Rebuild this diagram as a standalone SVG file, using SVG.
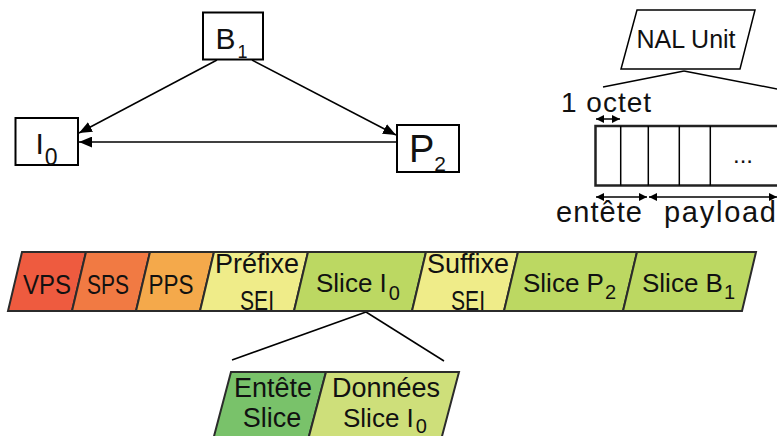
<svg xmlns="http://www.w3.org/2000/svg" width="777" height="436" viewBox="0 0 777 436">
<style>
text{font-family:"Liberation Sans",Arial,sans-serif;fill:#111}
.box{fill:#fff;stroke:#000;stroke-width:2}
.seg{stroke:#2b2b2b;stroke-width:2;stroke-linejoin:miter}
.lbl{font-size:27px;text-anchor:middle}
.ln{stroke:#000;stroke-width:1.5;fill:none}
</style>
<defs>
<marker id="ah" viewBox="0 0 12 10" refX="12" refY="5" markerWidth="13" markerHeight="11" orient="auto" markerUnits="userSpaceOnUse">
<path d="M0,0 L12,5 L0,10 z" fill="#000"/>
</marker>
<marker id="sh" viewBox="0 0 8 8" refX="8" refY="4" markerWidth="8" markerHeight="8" orient="auto-start-reverse" markerUnits="userSpaceOnUse">
<path d="M0,0 L8,4 L0,8 z" fill="#000"/>
</marker>
</defs>

<g id="connectors">
<line class="ln" x1="217" y1="60" x2="79" y2="133" marker-end="url(#ah)"/>
<line class="ln" x1="252" y1="60" x2="396" y2="135" marker-end="url(#ah)"/>
<line class="ln" x1="396" y1="142" x2="79" y2="142" marker-end="url(#ah)"/>
<line class="ln" x1="684" y1="71" x2="603" y2="87"/>
<line class="ln" x1="684" y1="71" x2="790" y2="91.5"/>
<line class="ln" x1="366" y1="312" x2="232" y2="360"/>
<line class="ln" x1="366" y1="312" x2="444" y2="361"/>
</g>

<g id="node-B1">
<rect class="box" x="203" y="12.5" width="60" height="47"/>
<text x="215.5" y="48.5" font-size="30">B<tspan font-size="18" dx="2" dy="9">1</tspan></text>
</g>
<g id="node-I0">
<rect class="box" x="15.5" y="118" width="62.5" height="47"/>
<text x="35.5" y="154" font-size="30">I<tspan font-size="23" dx="1" dy="11">0</tspan></text>
</g>
<g id="node-P2">
<rect class="box" x="397" y="125" width="62" height="47"/>
<text x="409" y="161.5" font-size="38">P<tspan font-size="21" dx="0" dy="9">2</tspan></text>
</g>

<g id="nal-unit">
<polygon points="637,10 755,10 740,69 621,69" fill="#fff" stroke="#000" stroke-width="1.5"/>
<text x="686" y="48" font-size="25" text-anchor="middle">NAL Unit</text>
</g>

<g id="nal-bytes">
<text x="561" y="112" font-size="28" textLength="90" lengthAdjust="spacing">1 octet</text>
<line class="ln" x1="596" y1="119" x2="620" y2="119" marker-start="url(#sh)" marker-end="url(#sh)" stroke-width="1.2"/>
<rect x="595.5" y="126" width="200" height="59.5" fill="#fff" stroke="#222" stroke-width="2.5"/>
<line class="ln" x1="620.7" y1="126" x2="620.7" y2="185.5" stroke-width="1.2"/>
<line class="ln" x1="648.3" y1="126" x2="648.3" y2="185.5" stroke-width="1.2"/>
<line class="ln" x1="679.3" y1="126" x2="679.3" y2="185.5" stroke-width="1.2"/>
<line class="ln" x1="710.3" y1="126" x2="710.3" y2="185.5" stroke-width="1.2"/>
<text x="733" y="163" font-size="24">...</text>
<line class="ln" x1="596" y1="197" x2="647" y2="197" marker-start="url(#sh)" marker-end="url(#sh)" stroke-width="1.2"/>
<line class="ln" x1="649" y1="197" x2="777" y2="197" marker-start="url(#sh)" marker-end="url(#sh)" stroke-width="1.2"/>
<text x="556" y="222" font-size="29" textLength="86" lengthAdjust="spacing">entête</text>
<text x="664" y="222" font-size="29" textLength="112" lengthAdjust="spacing">payload</text>
</g>

<g id="seg-VPS">
<polygon class="seg" points="22,252 86,252 72,311 8,311" fill="#EE5B3F"/>
<text x="23" y="294" font-size="27" textLength="48" lengthAdjust="spacingAndGlyphs">VPS</text>
</g>
<g id="seg-SPS">
<polygon class="seg" points="86,252 150,252 136,311 72,311" fill="#F17A43"/>
<text x="87" y="294" font-size="27" textLength="42" lengthAdjust="spacingAndGlyphs">SPS</text>
</g>
<g id="seg-PPS">
<polygon class="seg" points="150,252 214,252 200,311 136,311" fill="#F4A94B"/>
<text x="148.5" y="294" font-size="27" textLength="45" lengthAdjust="spacingAndGlyphs">PPS</text>
</g>
<g id="seg-prefix-SEI">
<polygon class="seg" points="214,252 308,252 294,311 200,311" fill="#EFEC89"/>
<text class="lbl" x="257" y="273">Préfixe</text>
<text x="240" y="310" font-size="27" textLength="34" lengthAdjust="spacingAndGlyphs">SEI</text>
</g>
<g id="seg-slice-I0">
<polygon class="seg" points="308,252 426,252 412,311 294,311" fill="#BCD862"/>
<text x="316" y="292" font-size="26">Slice I<tspan font-size="20" dx="2" dy="8">0</tspan></text>
</g>
<g id="seg-suffix-SEI">
<polygon class="seg" points="426,252 518,252 504,311 412,311" fill="#EFEC89"/>
<text class="lbl" x="468" y="273">Suffixe</text>
<text x="451" y="310" font-size="27" textLength="34" lengthAdjust="spacingAndGlyphs">SEI</text>
</g>
<g id="seg-slice-P2">
<polygon class="seg" points="518,252 637,252 623,311 504,311" fill="#BCD862"/>
<text x="523" y="292" font-size="26">Slice P<tspan font-size="20" dx="1" dy="7">2</tspan></text>
</g>
<g id="seg-slice-B1">
<polygon class="seg" points="637,252 756,252 742,311 623,311" fill="#BCD862"/>
<text x="642" y="292" font-size="26">Slice B<tspan font-size="20" dx="1" dy="7">1</tspan></text>
</g>

<g id="seg-entete-slice">
<polygon class="seg" points="231,372 326,372 308,440 213,440" fill="#79C26A"/>
<text class="lbl" x="273" y="397">Entête</text>
<text class="lbl" x="272" y="427">Slice</text>
</g>
<g id="seg-donnees-slice">
<polygon class="seg" points="326,372 459,372 441,440 308,440" fill="#CEDF7A"/>
<text class="lbl" x="386" y="397">Données</text>
<text x="343" y="427" font-size="26">Slice I<tspan font-size="20" dx="2" dy="6">0</tspan></text>
</g>
</svg>
